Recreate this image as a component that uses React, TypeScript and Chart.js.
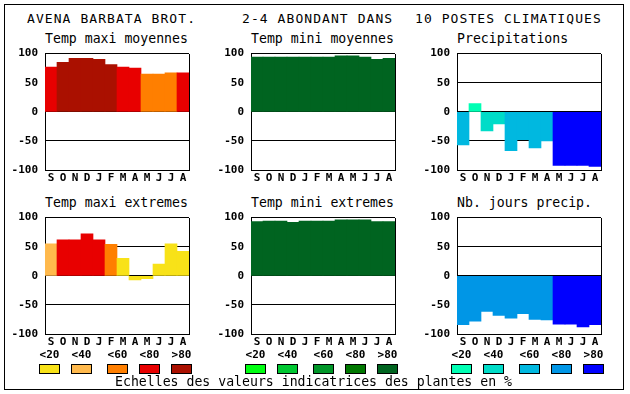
import React, { useEffect, useRef } from 'react';
import { Chart, registerables } from 'chart.js';
Chart.register(...registerables);

const FONT = '"DejaVu Sans Mono", monospace';
Chart.defaults.font.family = FONT;

const months = ['S', 'O', 'N', 'D', 'J', 'F', 'M', 'A', 'M', 'J', 'J', 'A'];
const scaleLabels = ['<20', '<40', '<60', '<80', '>80'];

const redScale = ['#f8e218', '#ffb94c', '#ff7f00', '#e80000', '#aa1000'];
const greenScale = ['#00ff12', '#00c832', '#009628', '#007800', '#006420'];
const blueScale = ['#00ffb4', '#00dcc8', '#00b8e0', '#0096e6', '#0000ff'];

const tempMaxiMoy = [77, 85, 92, 92, 90, 81, 77, 75, 65, 65, 67, 67];
const tempMaxiMoyCls = [3, 4, 4, 4, 4, 4, 3, 3, 2, 2, 2, 3];
const tempMiniMoy = [94, 94, 94, 94, 94, 94, 94, 96, 96, 94, 90, 92];
const tempMiniMoyCls = [4, 4, 4, 4, 4, 4, 4, 4, 4, 4, 4, 4];
const precip = [-57, 14, -33, -21, -67, -48, -62, -50, -92, -92, -92, -94];
const precipCls = [2, 0, 1, 1, 2, 2, 2, 2, 4, 4, 4, 4];
const tempMaxiExt = [55, 62, 62, 72, 62, 54, 30, -7, -5, 20, 55, 42];
const tempMaxiExtCls = [1, 3, 3, 3, 3, 2, 0, 0, 0, 0, 0, 0];
const tempMiniExt = [93, 94, 94, 92, 94, 94, 94, 96, 96, 96, 93, 93];
const tempMiniExtCls = [4, 4, 4, 4, 4, 4, 4, 4, 4, 4, 4, 4];
const nbJours = [-84, -78, -61, -68, -73, -65, -75, -76, -83, -83, -88, -84];
const nbJoursCls = [3, 3, 3, 3, 3, 3, 3, 3, 4, 4, 4, 4];

const AXIS_W = 45;
const PAD_T = 10;
const PAD_R = 5;
const AXIS_H = 18;
const PLOT_W = 144;
const PLOT_H = 120;

const framePlugin = {
  id: 'frame',
  afterDraw(chart: any) {
    const { ctx, chartArea } = chart;
    ctx.save();
    ctx.strokeStyle = '#000';
    ctx.lineWidth = 1;
    ctx.beginPath();
    const x = Math.round(chartArea.right) + 0.5;
    ctx.moveTo(x, Math.round(chartArea.top));
    ctx.lineTo(x, Math.round(chartArea.bottom) + 1);
    ctx.stroke();
    ctx.restore();
  },
};

function Panel(props: { values: number[]; classes: number[]; palette: string[]; left: number; top: number }) {
  const ref = useRef<HTMLCanvasElement>(null);
  useEffect(() => {
    const chart = new Chart(ref.current!, {
      type: 'bar',
      data: {
        labels: months,
        datasets: [
          {
            data: props.values,
            backgroundColor: props.classes.map((c) => props.palette[c]),
            borderWidth: 0,
            barPercentage: 1,
            categoryPercentage: 1,
          },
        ],
      },
      options: {
        responsive: false,
        animation: false,
        devicePixelRatio: 1,
        layout: { padding: { top: PAD_T, right: PAD_R, left: 0, bottom: 0 } },
        plugins: { legend: { display: false }, tooltip: { enabled: false }, title: { display: false } },
        scales: {
          x: {
            grid: { display: false, drawTicks: false },
            border: { display: true, color: '#000' },
            ticks: { color: '#000', font: { size: 11, weight: 'bold' }, padding: 2, autoSkip: false, maxRotation: 0 },
            afterFit: (s: any) => {
              s.height = AXIS_H;
            },
          },
          y: {
            min: -100,
            max: 100,
            z: 1,
            grid: { color: '#000', drawTicks: false, lineWidth: 1 },
            border: { display: true, color: '#000' },
            ticks: { stepSize: 50, color: '#000', font: { size: 11, weight: 'bold' }, padding: 7 },
            afterFit: (s: any) => {
              s.width = AXIS_W;
            },
          },
        },
      } as any,
      plugins: [framePlugin],
    });
    return () => chart.destroy();
  }, []);
  const w = AXIS_W + PLOT_W + PAD_R;
  const h = PAD_T + PLOT_H + AXIS_H;
  return (
    <canvas
      ref={ref}
      width={w}
      height={h}
      style={{ position: 'absolute', left: props.left - AXIS_W, top: props.top - PAD_T, width: w, height: h }}
    />
  );
}

function Text(props: { x: number; y: number; size: number; text: string; bold?: boolean; spacing?: number; width?: number; center?: boolean }) {
  return (
    <div
      style={{
        position: 'absolute',
        left: props.x,
        top: props.y,
        width: props.width,
        fontSize: props.size,
        lineHeight: props.size + 'px',
        fontWeight: props.bold ? 'bold' : 'normal',
        letterSpacing: props.spacing ? props.spacing + 'px' : undefined,
        whiteSpace: 'pre',
        textAlign: props.center ? 'center' : 'left',
        color: '#000',
      }}
    >
      {props.text}
    </div>
  );
}

const COLS = [45, 251, 457];
const ROWS = [50, 214];
const LEG_OFF = [-6, 26, 62, 94, 126];

export default function App() {
  useEffect(() => {
    document.body.style.margin = '0';
  }, []);
  const palettes = [redScale, greenScale, blueScale];
  return (
    <div style={{ position: 'absolute', left: 0, top: 0, width: 630, height: 394, background: '#fff', fontFamily: FONT, overflow: 'hidden' }}>
      <div style={{ position: 'absolute', left: 4, top: 4, width: 620, height: 386, border: '1px solid #000', boxSizing: 'border-box' }} />
      <Text x={27} y={12.3} size={13} spacing={1.07} text="AVENA BARBATA BROT." />
      <Text x={242} y={12.3} size={13} spacing={1.07} text="2-4 ABONDANT DANS" />
      <Text x={415} y={12.3} size={13} spacing={1.07} text="10 POSTES CLIMATIQUES" />

      <Text x={COLS[0]} y={32.1} size={13.2} text="Temp maxi moyennes" />
      <Text x={COLS[1]} y={32.1} size={13.2} text="Temp mini moyennes" />
      <Text x={COLS[2]} y={32.1} size={13.2} text="Precipitations" />
      <Text x={COLS[0]} y={196.1} size={13.2} text="Temp maxi extremes" />
      <Text x={COLS[1]} y={196.1} size={13.2} text="Temp mini extremes" />
      <Text x={COLS[2]} y={196.1} size={13.2} text="Nb. jours precip." />

      <Panel values={tempMaxiMoy} classes={tempMaxiMoyCls} palette={redScale} left={COLS[0]} top={ROWS[0]} />
      <Panel values={tempMiniMoy} classes={tempMiniMoyCls} palette={greenScale} left={COLS[1]} top={ROWS[0]} />
      <Panel values={precip} classes={precipCls} palette={blueScale} left={COLS[2]} top={ROWS[0]} />
      <Panel values={tempMaxiExt} classes={tempMaxiExtCls} palette={redScale} left={COLS[0]} top={ROWS[1]} />
      <Panel values={tempMiniExt} classes={tempMiniExtCls} palette={greenScale} left={COLS[1]} top={ROWS[1]} />
      <Panel values={nbJours} classes={nbJoursCls} palette={blueScale} left={COLS[2]} top={ROWS[1]} />

      {palettes.map((pal, g) =>
        pal.map((col, i) => {
          const bx = COLS[g] + LEG_OFF[i];
          return (
            <React.Fragment key={g + '-' + i}>
              <Text x={bx - 10} y={348.7} width={41} center size={11} bold text={scaleLabels[i]} />
              <div
                style={{
                  position: 'absolute',
                  left: bx,
                  top: 364,
                  width: 21,
                  height: 10,
                  background: col,
                  border: '1px solid #000',
                  boxSizing: 'border-box',
                }}
              />
            </React.Fragment>
          );
        })
      )}
      <Text x={115} y={375.1} size={13.2} text="Echelles des valeurs indicatrices des plantes en %" />
    </div>
  );
}
